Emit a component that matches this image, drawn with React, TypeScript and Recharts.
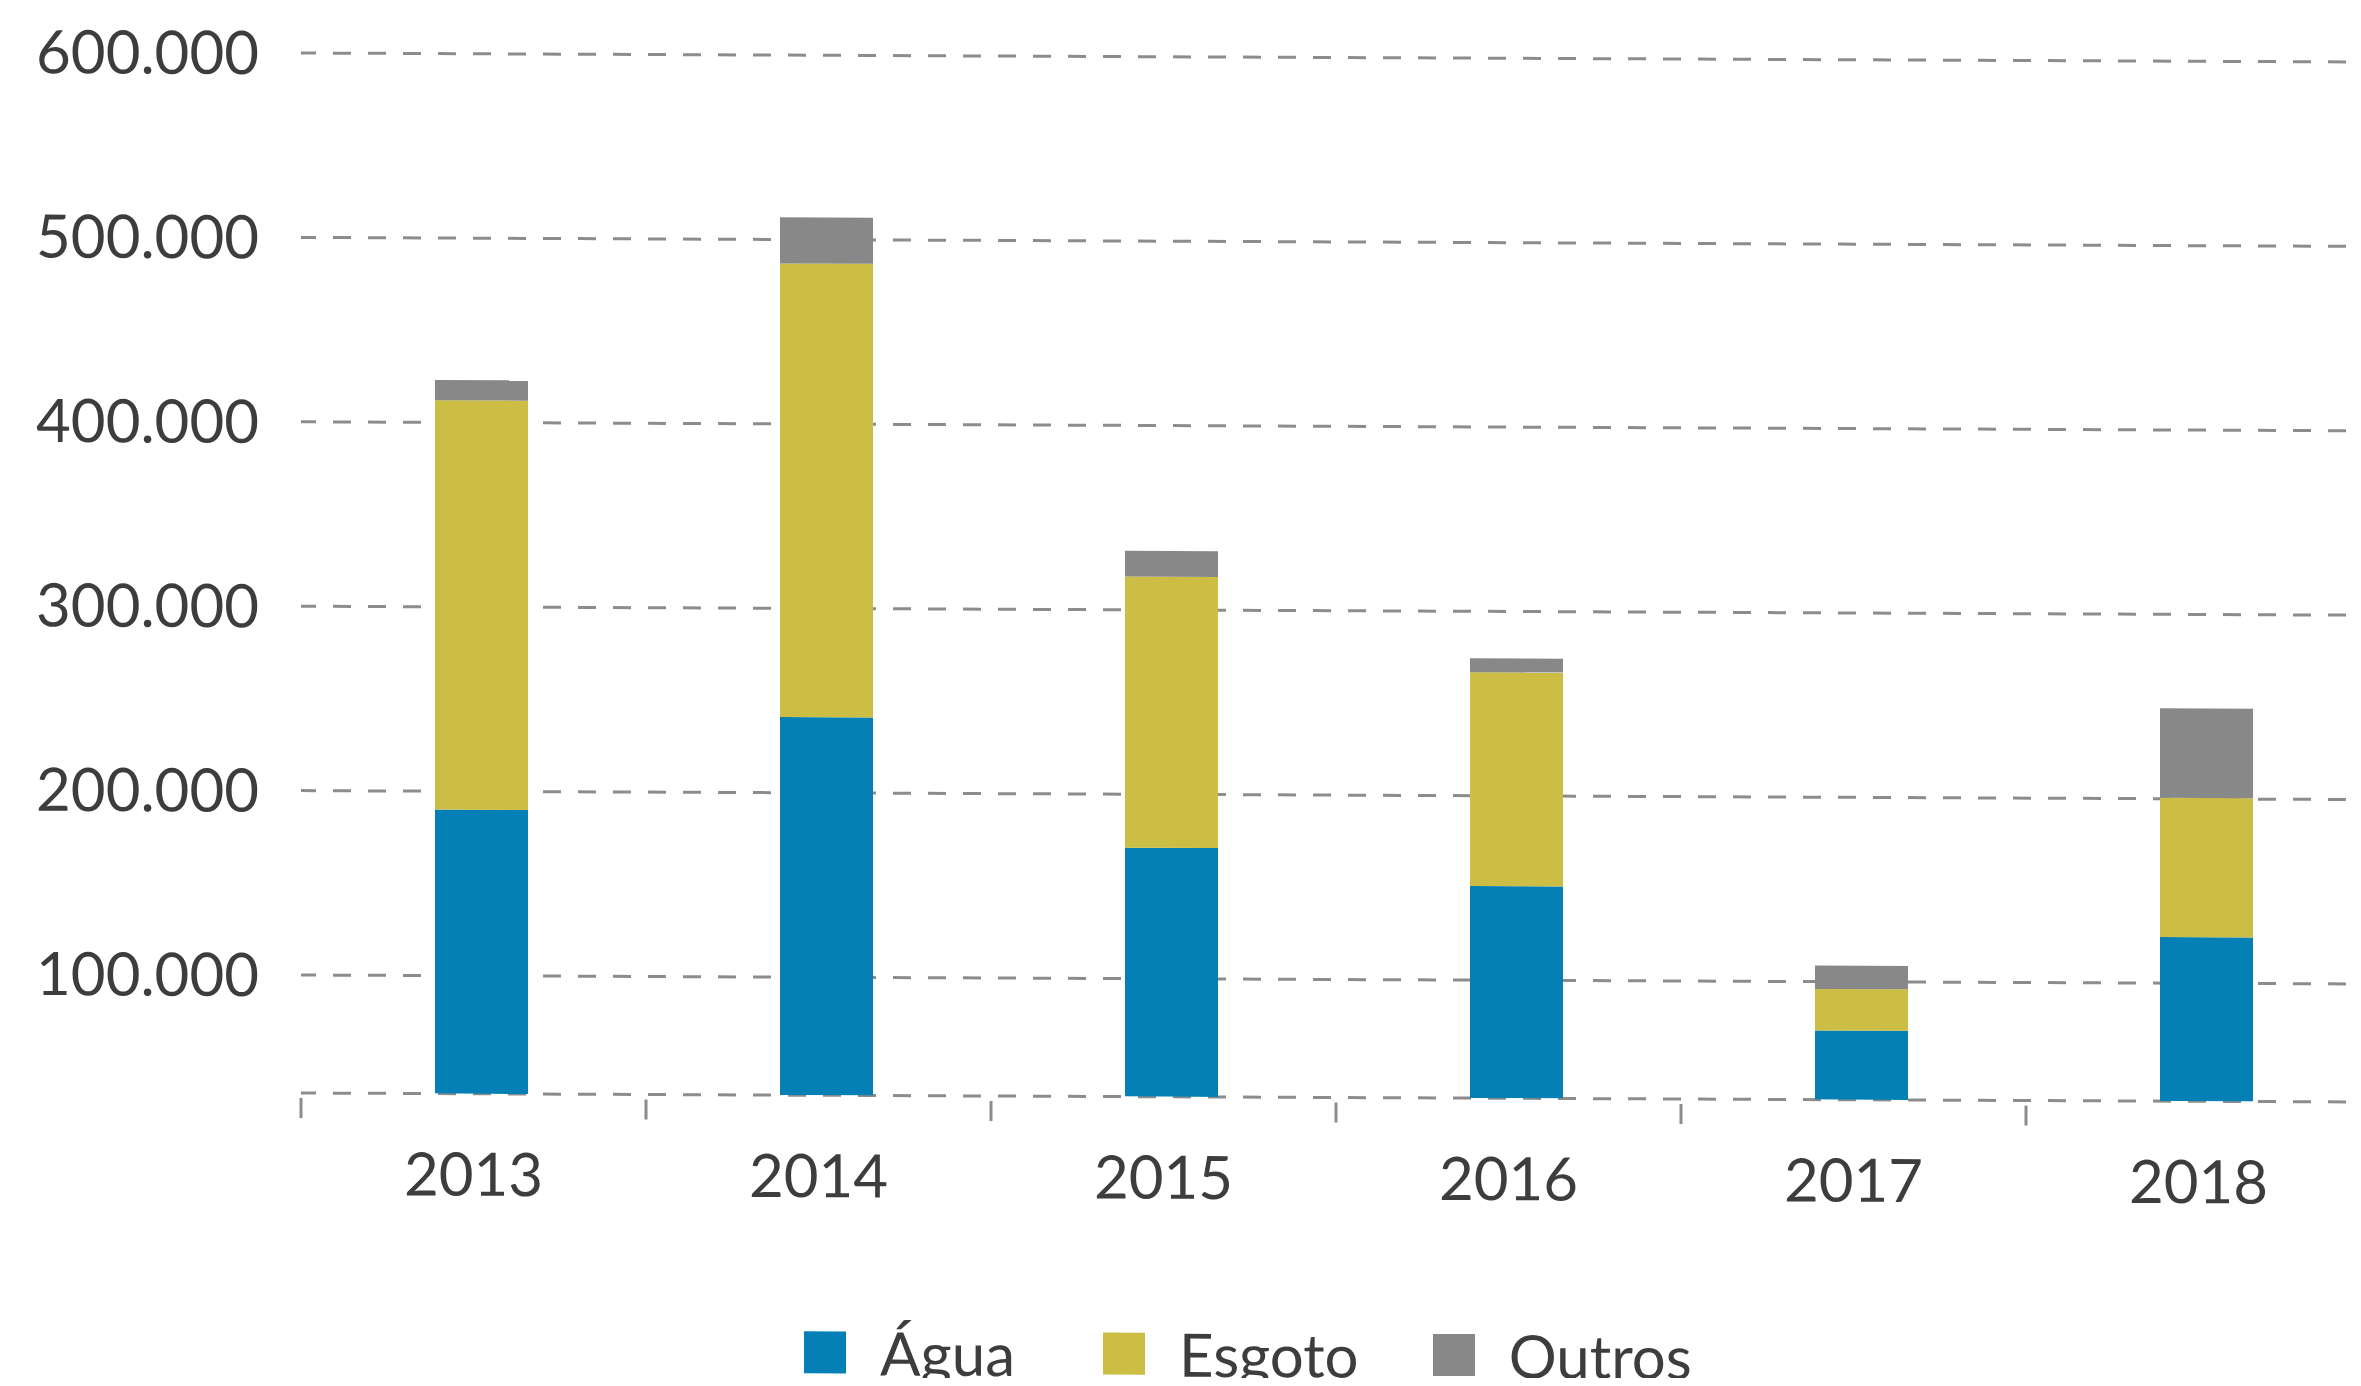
import { BarChart, Bar, XAxis, YAxis, CartesianGrid, Legend, Rectangle } from 'recharts';

const years = ['2013', '2014', '2015', '2016', '2017', '2018'];
const agua = [190000, 241000, 171000, 151000, 73500, 125000];
const esgoto = [222000, 246000, 147000, 116000, 22500, 75500];
const outros = [11000, 25000, 14000, 7500, 12700, 48500];
const seriesNames = ['Água', 'Esgoto', 'Outros'];
const yTicks = [100000, 200000, 300000, 400000, 500000, 600000];
const axisMin = 36000;

const chartData = years.map((year, i) => ({
    year,
    agua: agua[i],
    esgoto: esgoto[i],
    outros: outros[i],
}));

const CHART_W = 2400;
const CHART_H = 1440;
const PLOT_LEFT = 301;
const PLOT_RIGHT = 2371;
const BAND = (PLOT_RIGHT - PLOT_LEFT) / years.length;
const TEXT = '#3d3d3d';
const GRID = '#8c8c8c';
const FONT = 'Lato, "Noto Sans", sans-serif';
const LEGEND_GAPS = [88, 74, 0];

const formatThousands = (v: number) =>
    v === axisMin ? '' : v.toString().replace(/\B(?=(\d{3})+(?!\d))/g, '.');

// label at band centre, small tick mark at the band's left edge
const YearTick = ({ x, y, payload }: any) => (
    <g>
        <line x1={x - BAND / 2} x2={x - BAND / 2} y1={y + 5} y2={y + 25} stroke={GRID} strokeWidth={3} />
        <text x={x} y={y + 102} textAnchor="middle" fill={TEXT} fontSize={60} fontFamily={FONT}>
            {payload.value}
        </text>
    </g>
);

// bars sit a little right of the band centre in the original
const ShiftedBar = (props: any) => <Rectangle {...props} x={props.x + 8} />;

const LegendContent = ({ payload }: any) => {
    const items = [...(payload || [])].sort(
        (a: any, b: any) => seriesNames.indexOf(a.value) - seriesNames.indexOf(b.value)
    );
    return (
        <div style={{ display: 'flex', alignItems: 'center' }}>
            {items.map((entry: any, i: number) => (
                <div key={entry.value} style={{ display: 'flex', alignItems: 'center', marginRight: LEGEND_GAPS[i] }}>
                    <span style={{ width: 42, height: 42, background: entry.color, marginRight: 34 }} />
                    <span style={{ fontSize: 60, lineHeight: '60px', color: TEXT, fontFamily: FONT }}>{entry.value}</span>
                </div>
            ))}
        </div>
    );
};

const App = () => {
    return (
        <div style={{ margin: -8, width: 2361, height: 1386, overflow: 'hidden', background: '#fff' }}>
            <div style={{ transform: 'skewY(0.25deg)', transformOrigin: `${PLOT_LEFT}px 0px` }}>
                <BarChart
                    width={CHART_W}
                    height={CHART_H}
                    data={chartData}
                    margin={{ top: 53, right: CHART_W - PLOT_RIGHT, left: 0, bottom: 197 }}
                >
                    <CartesianGrid
                        vertical={false}
                        stroke={GRID}
                        strokeWidth={3}
                        strokeDasharray="18 17"
                        strokeDashoffset={3}
                    />
                    <XAxis
                        dataKey="year"
                        height={150}
                        axisLine={false}
                        tickLine={false}
                        tickSize={0}
                        tickMargin={0}
                        interval={0}
                        tick={<YearTick />}
                    />
                    <YAxis
                        type="number"
                        width={PLOT_LEFT}
                        domain={[axisMin, 600000]}
                        ticks={[axisMin, ...yTicks]}
                        allowDataOverflow
                        interval={0}
                        axisLine={false}
                        tickLine={false}
                        tickSize={0}
                        tickMargin={42}
                        tickFormatter={formatThousands}
                        tick={{ fill: TEXT, fontSize: 60, fontFamily: FONT }}
                    />
                    <Legend
                        layout="horizontal"
                        verticalAlign="middle"
                        align="center"
                        wrapperStyle={{ top: 1320, left: 804, width: 'auto' }}
                        content={<LegendContent />}
                    />
                    <Bar dataKey="agua" name={seriesNames[0]} stackId="a" fill="#0580b6" barSize={93} shape={ShiftedBar} isAnimationActive={false} />
                    <Bar dataKey="esgoto" name={seriesNames[1]} stackId="a" fill="#ccbe44" barSize={93} shape={ShiftedBar} isAnimationActive={false} />
                    <Bar dataKey="outros" name={seriesNames[2]} stackId="a" fill="#888888" barSize={93} shape={ShiftedBar} isAnimationActive={false} />
                </BarChart>
            </div>
        </div>
    );
};

export default App;
